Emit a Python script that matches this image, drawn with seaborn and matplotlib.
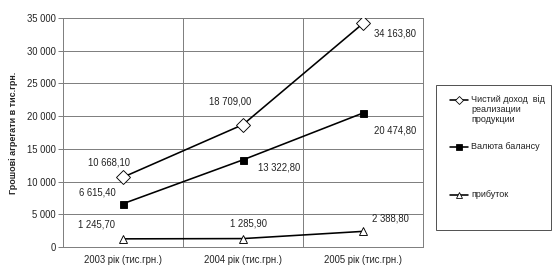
import numpy as np
import matplotlib
matplotlib.use('Agg')
import matplotlib.pyplot as plt
import seaborn as sns
from matplotlib.lines import Line2D
from matplotlib.patches import Rectangle
from matplotlib.ticker import FuncFormatter, MultipleLocator

# Data
years = ['2003 рік (тис.грн.)', '2004 рік (тис.грн.)', '2005 рік (тис.грн.)']
dokhid = [10668.10, 18709.00, 34163.80]
valiuta = [6615.40, 13322.80, 20474.80]
prybutok = [1245.70, 1285.90, 2388.80]
series_names = ['Чистий доход  від\nреализации\nпродукции', 'Валюта балансу', 'прибуток']

sns.set_style('white')
plt.rcParams['font.family'] = ['Liberation Sans', 'DejaVu Sans']

W, H = 557, 276
fig = plt.figure(figsize=(W / 72, H / 72), dpi=72)
ax = fig.add_axes([63 / W, (H - 247) / H, 360 / W, 229 / H])

x = np.arange(len(years))
styles = [
    dict(marker='D', markersize=10.5, markerfacecolor='white'),
    dict(marker='s', markersize=7, markerfacecolor='black'),
    dict(marker='^', markersize=8, markerfacecolor='white'),
]
all_series = [dokhid, valiuta, prybutok]
for vals, st in zip(all_series, styles):
    sns.lineplot(x=x, y=vals, ax=ax, color='black', linewidth=1.6,
                 markeredgecolor='black', markeredgewidth=0.9, zorder=3, **st)

# data labels: offsets in pixels (dx, dy)
offsets = [
    [(-14, 15), (-13, 23), (32, -10)],
    [(-26, 11), (36, -8), (32, -17)],
    [(-26, 14), (5, 15), (27, 13)],
]


def fmt(v):
    s = f'{v:,.2f}'.replace(',', ' ').replace('.', ',')
    return s


for vals, offs in zip(all_series, offsets):
    for xi, v, (dx, dy) in zip(x, vals, offs):
        ax.annotate(fmt(v), (xi, v), xytext=(dx, dy), textcoords='offset points',
                    ha='center', va='center', fontsize=9.5, color='#222222')

ax.set_xlim(-0.5, 2.5)
ax.set_ylim(0, 35000)
ax.yaxis.set_major_locator(MultipleLocator(5000))
ax.yaxis.set_major_formatter(FuncFormatter(lambda v, p: f'{int(v):,}'.replace(',', ' ')))
ax.set_xticks(x)
ax.set_xticklabels(years)
ax.set_xticks([-0.5, 0.5, 1.5, 2.5], minor=True)
ax.tick_params(axis='x', which='major', length=0, pad=8, labelsize=9.5, colors='#222222')
ax.tick_params(axis='x', which='minor', length=4, color='#808080', width=1)
ax.tick_params(axis='y', length=5, color='#808080', width=1, labelsize=9.5,
               colors='#222222', pad=2, left=True)
ax.grid(axis='y', which='major', color='#808080', linewidth=1)
ax.grid(axis='x', which='minor', color='#808080', linewidth=1)
for sp in ax.spines.values():
    sp.set_color('#808080')
    sp.set_linewidth(1)
ax.set_xlabel('')
ax.set_ylabel('Грошові агрегати в тис.грн.', fontsize=9, fontweight='bold', labelpad=9)

# legend box drawn by hand
fig.patches.append(Rectangle((436 / W, (H - 230) / H), 115 / W, 145 / H,
                             transform=fig.transFigure, facecolor='white',
                             edgecolor='#555555', linewidth=1))
leg_y = [100, 147, 195]
leg_ms = [6, 5.5, 6.5]
for st, name, yy, ms in zip(styles, series_names, leg_y, leg_ms):
    fy = (H - yy) / H
    fig.lines.append(Line2D([450 / W, 468 / W], [fy, fy], transform=fig.transFigure,
                            color='black', linewidth=1.6))
    fig.lines.append(Line2D([459 / W], [fy], transform=fig.transFigure,
                            linestyle='none', marker=st['marker'], markersize=ms,
                            markerfacecolor=st['markerfacecolor'],
                            markeredgecolor='black', markeredgewidth=0.8))
    fig.text(471 / W, (H - yy + 5) / H, name, fontsize=9, va='top', ha='left',
             color='#222222', linespacing=1.15)

fig.savefig('out.png', dpi=72)
